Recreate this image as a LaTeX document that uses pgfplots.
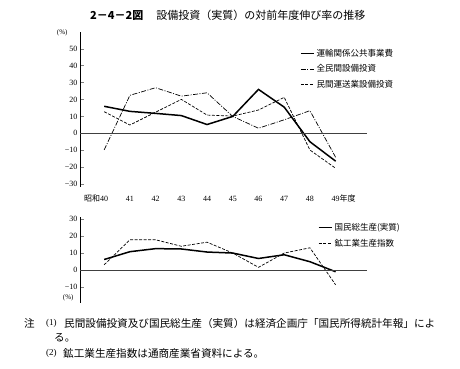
\documentclass[border=0pt]{standalone}
\usepackage{pgfplots}
\pgfplotsset{compat=1.18}
\usepackage{fontspec}
\setmainfont{Liberation Serif}
\newfontfamily\jp{Noto Sans CJK JP}
\begin{document}
\begin{tikzpicture}
\path[use as bounding box] (0pt,0pt) rectangle (460pt,369pt);
\pgfplotsset{
  myaxis/.style={
    scale only axis, clip=false,
    xmin=39.06, xmax=50.2,
    axis y line*=left, axis x line*=bottom,
    x axis line style={draw=none},
    y axis line style={-, line width=0.8pt},
    xtick style={draw=none},
    ytick style={line width=0.6pt},
    tick align=inside, major tick length=4pt,
    yticklabel style={font=\fontsize{8}{9}\selectfont, xshift=1pt},
    xticklabel style={font=\fontsize{8}{9}\selectfont, yshift=-5pt, text height=6pt, text depth=1pt},
    legend style={draw=none, fill=none, inner sep=0pt, row sep=3pt,
      font=\jp\fontsize{8.5}{9}\selectfont, cells={anchor=west}},
    legend image code/.code={\draw[##1] (0pt,0pt) -- (13pt,0pt);},
  }
}
% ---------- top chart ----------
\begin{axis}[myaxis,
  at={(80pt,182pt)}, anchor=south west,
  width=286.5pt, height=155pt,
  ymin=-31.8, ymax=60,
  xtick={40,...,49},
  xticklabels={\llap{\jp 昭和}40,41,42,43,44,45,46,47,48,49\rlap{\jp 年度}},
  ytick={-30,-20,...,50},
  yticklabels={−30,−20,−10,0,10,20,30,40,50},
  legend style={at={(0.768,0.905)}, anchor=north west},
]
\addplot[black, line width=1.5pt] coordinates {(40,16) (41,13) (42,11.8) (43,10.5) (44,5.2) (45,10) (46,26) (47,15.5) (48,-5) (49,-16.5)};
\addlegendentry{運輸関係公共事業費}
\addplot[black, line width=0.7pt, dash pattern=on 5pt off 1.5pt on 1pt off 1.5pt] coordinates {(40,-9.8) (41,22.5) (42,27) (43,22) (44,24) (45,10) (46,3) (47,8) (48,13.4) (49,-14.2)};
\addlegendentry{全民間設備投資}
\addplot[black, line width=0.7pt, dash pattern=on 3pt off 1.5pt] coordinates {(40,12.8) (41,4.9) (42,12.5) (43,20.1) (44,10.8) (45,10.2) (46,13.8) (47,21.3) (48,-9.9) (49,-20.7)};
\addlegendentry{民間運送業設備投資}
\addplot[black!75, line width=0.9pt, forget plot] coordinates {(39.06,0) (50.2,0)};
\node[anchor=east, font=\fontsize{7}{8}\selectfont] at (rel axis cs:0,1) [xshift=-9pt, yshift=-1pt] {(\%)};
\end{axis}
% ---------- bottom chart ----------
\begin{axis}[myaxis,
  at={(80pt,66pt)}, anchor=south west,
  width=286.5pt, height=86.3pt,
  ymin=-19.4, ymax=31.4,
  xtick=\empty,
  ytick={-10,0,10,20,30},
  yticklabels={−10,0,10,20,30},
  legend style={at={(0.83,0.95)}, anchor=north west},
]
\addplot[black, line width=1.5pt] coordinates {(40,6.2) (41,10.8) (42,12.6) (43,12.4) (44,10.6) (45,10) (46,6.8) (47,9) (48,4.9) (49,-1)};
\addlegendentry{国民総生産(実質)}
\addplot[black, line width=0.7pt, dash pattern=on 3pt off 1.5pt] coordinates {(40,3.1) (41,17.8) (42,17.8) (43,14) (44,16.4) (45,10) (46,1.6) (47,10) (48,13.1) (49,-8.7)};
\addlegendentry{鉱工業生産指数}
\addplot[black!75, line width=0.9pt, forget plot] coordinates {(39.06,0) (50.2,0)};
\node[anchor=east, font=\fontsize{7}{8}\selectfont] at (rel axis cs:0,0) [xshift=-3pt, yshift=5pt] {(\%)};
\end{axis}
% ---------- title and notes ----------
\node[anchor=west, inner sep=0pt, font=\jp\fontsize{11}{13}\selectfont] at (90pt,354pt) {\bfseries 2－4－2図\hspace{1.2em}\mdseries 設備投資（実質）の対前年度伸び率の推移};
\node[anchor=west, inner sep=0pt, font=\jp\fontsize{10.6}{12}\selectfont] at (24pt,46pt) {注};
\node[anchor=west, inner sep=0pt, font=\fontsize{9}{11}\selectfont] at (46pt,46pt) {(1)};
\node[anchor=west, inner sep=0pt, font=\jp\fontsize{10.6}{12}\selectfont] at (64pt,46pt) {民間設備投資及び国民総生産（実質）は経済企画庁「国民所得統計年報」によ};
\node[anchor=west, inner sep=0pt, font=\jp\fontsize{10.6}{12}\selectfont] at (54pt,31pt) {る。};
\node[anchor=west, inner sep=0pt, font=\fontsize{9}{11}\selectfont] at (46pt,16pt) {(2)};
\node[anchor=west, inner sep=0pt, font=\jp\fontsize{10.6}{12}\selectfont] at (63pt,16pt) {鉱工業生産指数は通商産業省資料による。};
\end{tikzpicture}
\end{document}
